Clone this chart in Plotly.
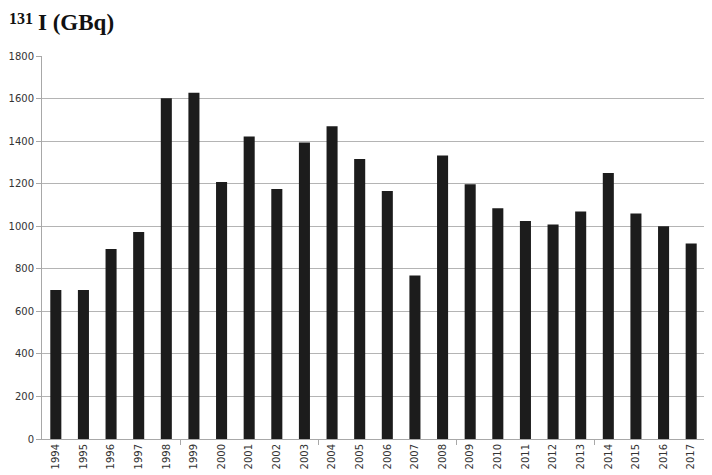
import plotly.graph_objects as go

years = list(range(1994, 2018))
values = [700, 700, 893, 973, 1602, 1627, 1208, 1422, 1175, 1393, 1470, 1316,
          1166, 768, 1332, 1197, 1085, 1025, 1008, 1069, 1250, 1060, 1000, 919]
tick_labels = [str(y) for y in years]
y_ticks = list(range(0, 1801, 200))

# page shows the figure offset by the body margin (8px); compensate in margins
L, R, T, B = 34, 15, 48, 44
W, H = 712, 475
plot_w = W - L - R
plot_h = H - T - B

fig = go.Figure(go.Bar(x=years, y=values, marker=dict(color="#1c1c1c", line=dict(width=0)),
                       width=0.4))

fig.update_layout(
    width=W, height=H,
    margin=dict(l=L, r=R, t=T, b=B, autoexpand=False),
    paper_bgcolor="white", plot_bgcolor="white",
    showlegend=False,
    font=dict(family="DejaVu Sans", size=10, color="#333333"),
    xaxis=dict(range=[1993.5, 2017.5], tickmode="array", tickvals=years, ticktext=tick_labels,
               tickangle=-90, ticks="", showgrid=False, showline=True, linecolor="#a8a8a8",
               linewidth=1, zeroline=False, tickfont=dict(size=10),
               minor=dict(tickmode="array", tickvals=[1998.5, 2003.5, 2008.5, 2013.5],
                          ticks="outside", ticklen=5, tickcolor="#a8a8a8", showgrid=False)),
    yaxis=dict(range=[0, 1800], tickmode="array", tickvals=y_ticks, showgrid=True,
               gridcolor="#b4b4b4", gridwidth=1, showline=True, linecolor="#a8a8a8",
               ticks="outside", ticklen=5, tickcolor="#a8a8a8", zeroline=False,
               tickfont=dict(size=10)),
    annotations=[
        dict(text="<b>131</b>",
             x=(-1 - L) / plot_w, y=(H - B) / plot_h,
             xref="paper", yref="paper", xanchor="left", yanchor="top",
             showarrow=False,
             font=dict(family="Liberation Serif", size=16, color="#111111")),
        dict(text="<b>I (GBq)</b>",
             x=(28 - L) / plot_w, y=(H - B) / plot_h,
             xref="paper", yref="paper", xanchor="left", yanchor="top",
             showarrow=False,
             font=dict(family="Liberation Serif", size=23, color="#111111")),
    ],
)
fig.write_html("out.html")
